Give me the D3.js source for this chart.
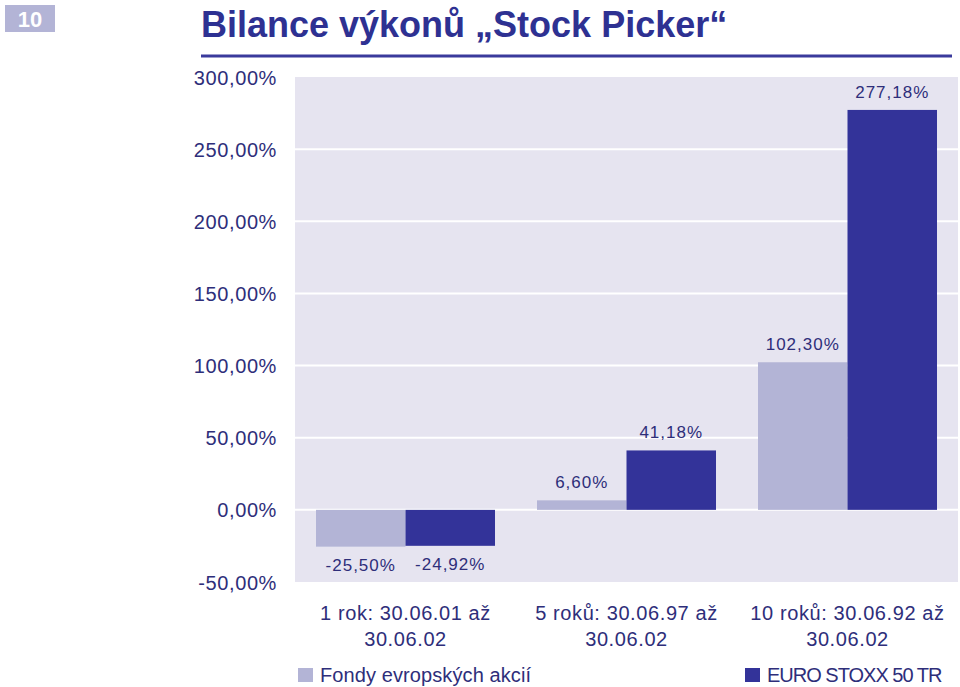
<!DOCTYPE html>
<html><head><meta charset="utf-8">
<script src="https://cdn.jsdelivr.net/npm/d3@7"></script>
<style>body{margin:0;background:#fff}svg{display:block}text{font-family:"Liberation Sans",Arial,sans-serif}</style>
</head><body>
<svg id="c" width="960" height="687"></svg>
<script>
const categories = [["1 rok: 30.06.01 až","30.06.02"],["5 roků: 30.06.97 až","30.06.02"],["10 roků: 30.06.92 až","30.06.02"]];
const seriesNames = ["Fondy evropských akcií","EURO STOXX 50 TR"];
const fondy = [-25.50, 6.60, 102.30];
const eurostoxx = [-24.92, 41.18, 277.18];
const tickValues = [-50,0,50,100,150,200,250,300];
const colors = ["#b3b4d6","#333399"];
const txt = "#2e2e7a";

const svg = d3.select("#c");
const num = v => d3.format(".2f")(Math.abs(v)).replace(".", ",");
const fmt = v => (v < 0 ? "-" : "") + num(v) + "%";

// header
svg.append("rect").attr("x",5).attr("y",5).attr("width",50).attr("height",27).attr("fill","#b3b4d6");
svg.append("text").attr("x",30).attr("y",27).attr("text-anchor","middle").attr("fill","#fff")
  .attr("font-weight","bold").attr("font-size",22).text("10");
svg.append("text").attr("x",201).attr("y",37).attr("fill","#2e3192").attr("font-weight","bold")
  .attr("font-size",36).text("Bilance výkonů „Stock Picker“");
svg.append("line").attr("x1",201).attr("x2",952).attr("y1",56).attr("y2",56).attr("stroke","#3a3a9c").attr("stroke-width",3);

const x0 = 295, x1 = 958;
const y = d3.scaleLinear().domain([-50,300]).range([582,77]);
const x = d3.scaleBand().domain(d3.range(categories.length)).range([x0,x1]).paddingInner(0.19).paddingOuter(0.095);
const xs = d3.scaleBand().domain([0,1]).range([0,x.bandwidth()]);

svg.append("rect").attr("x",x0).attr("y",y(300)).attr("width",x1-x0).attr("height",y(-50)-y(300)).attr("fill","#e6e4f0");
svg.append("g").selectAll("line").data(tickValues.filter(v=>v>-50 && v<300)).join("line")
  .attr("x1",x0).attr("x2",x1).attr("y1",d=>y(d)).attr("y2",d=>y(d)).attr("stroke","#fff").attr("stroke-width",2);

// y axis
const ya = d3.axisLeft(y).tickValues(tickValues).tickFormat(fmt).tickSize(0).tickPadding(18);
const yg = svg.append("g").attr("transform",`translate(${x0},0)`).call(ya);
yg.select(".domain").remove();
yg.selectAll("text").attr("font-size",20).attr("letter-spacing","0.6").attr("fill",txt).attr("dy","0.35em").style("font-family","'Liberation Sans',Arial,sans-serif");

const series = [fondy, eurostoxx];
series.forEach((vals, si) => {
  const g = svg.append("g");
  g.selectAll("rect").data(vals).join("rect")
    .attr("x",(d,i)=>x(i)+xs(si)).attr("width",xs.bandwidth())
    .attr("y",d=>y(Math.max(0,d))).attr("height",d=>Math.abs(y(d)-y(0)))
    .attr("fill",colors[si]);
  g.selectAll("text").data(vals).join("text")
    .attr("x",(d,i)=>x(i)+xs(si)+xs.bandwidth()/2)
    .attr("y",d=> d>=0 ? y(d)-12 : y(d)+24)
    .attr("text-anchor","middle").attr("font-size",17).attr("fill",txt).attr("letter-spacing","1")
    .text(d=>fmt(d));
});

// category labels
const cg = svg.append("g").selectAll("text").data(categories).join("text")
  .attr("x",(d,i)=>x(i)+x.bandwidth()/2).attr("y",620).attr("text-anchor","middle")
  .attr("font-size",20).attr("fill",txt).attr("letter-spacing","0.6");
cg.selectAll("tspan").data(d=>d).join("tspan").attr("x",function(){return d3.select(this.parentNode).attr("x");})
  .attr("dy",(d,i)=>i===0?0:26).text(d=>d);

// legend
const lx = [298, 745];
seriesNames.forEach((n,i)=>{
  svg.append("rect").attr("x",lx[i]).attr("y",668).attr("width",15).attr("height",14).attr("fill",colors[i]);
  svg.append("text").attr("x",lx[i]+22).attr("y",682).attr("font-size",20).attr("fill",txt)
    .attr("letter-spacing", i===1 ? "-1" : "0.1").text(n);
});
</script>
</body></html>
